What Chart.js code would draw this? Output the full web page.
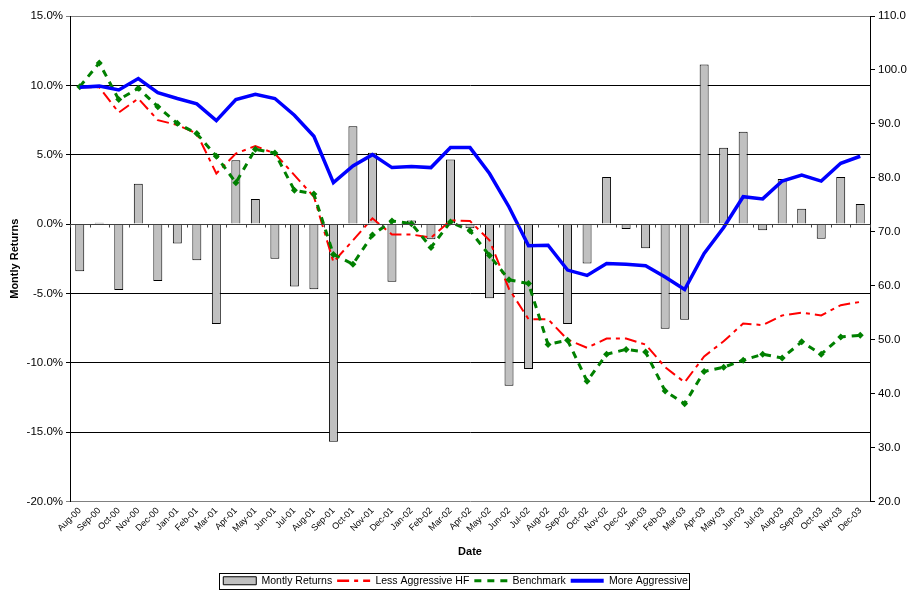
<!DOCTYPE html>
<html><head><meta charset="utf-8">
<script src="https://cdn.jsdelivr.net/npm/chart.js@4/dist/chart.umd.min.js"></script>
<style>html,body{margin:0;padding:0;background:#fff}#wrap{width:911px;height:590px}</style>
</head><body><div id="wrap"><canvas id="c" width="911" height="590"></canvas></div>
<script>
const categories = ["Aug-00","Sep-00","Oct-00","Nov-00","Dec-00","Jan-01","Feb-01","Mar-01","Apr-01","May-01","Jun-01","Jul-01","Aug-01","Sep-01","Oct-01","Nov-01","Dec-01","Jan-02","Feb-02","Mar-02","Apr-02","May-02","Jun-02","Jul-02","Aug-02","Sep-02","Oct-02","Nov-02","Dec-02","Jan-03","Feb-03","Mar-03","Apr-03","May-03","Jun-03","Jul-03","Aug-03","Sep-03","Oct-03","Nov-03","Dec-03"];
const monthlyReturns = [-3.4,0.1,-4.75,2.9,-4.1,-1.4,-2.6,-7.2,4.6,1.8,-2.5,-4.5,-4.7,-15.7,7.05,5.15,-4.15,0.25,-1.1,4.65,-0.3,-5.35,-11.65,-10.45,0.05,-7.2,-2.85,3.4,-0.35,-1.75,-7.55,-6.9,11.5,5.5,6.65,-0.45,3.25,1.1,-1.05,3.4,1.45];
const lessAggressive = [96.8,96.8,92.1,94.7,90.7,89.8,88.2,80.8,84.5,85.9,84.5,80.5,76.5,64.4,68.4,72.5,69.5,69.5,68.9,72.1,72.0,68.4,59.4,53.8,53.8,50.0,48.5,50.2,50.2,49.1,44.9,42.1,46.9,49.7,53.0,52.7,54.5,55.0,54.5,56.4,57.0];
const benchmark = [96.9,101.3,94.5,96.6,93.2,90.1,88.2,84.0,79.1,85.3,84.6,77.7,77.0,65.8,64.0,69.4,72.0,71.5,67.1,71.8,70.2,65.6,61.1,60.4,49.1,49.9,42.3,47.3,48.2,47.7,40.5,38.1,44.1,44.9,46.2,47.3,46.6,49.6,47.3,50.5,50.8];
const moreAggressive = [96.8,97.0,96.3,98.4,95.8,94.7,93.7,90.6,94.5,95.5,94.7,91.6,87.7,79.1,82.2,84.3,81.9,82.1,81.9,85.6,85.6,80.8,74.6,67.4,67.5,62.9,61.9,64.1,64.0,63.7,61.6,59.3,66.0,70.8,76.5,76.1,79.4,80.5,79.4,82.7,84.0];

const FONT = "'Liberation Sans', Arial, sans-serif";
Chart.defaults.font.family = FONT;
Chart.defaults.color = '#000';

const zeroLine = {
  id: 'zeroLine',
  afterDatasetsDraw(chart) {
    const ctx = chart.ctx, y = chart.scales.y, x = chart.scales.x, a = chart.chartArea;
    const py = Math.round(y.getPixelForValue(0)) + 0.5;
    ctx.save();
    ctx.strokeStyle = '#404040';
    ctx.lineWidth = 1;
    ctx.beginPath();
    ctx.moveTo(a.left, py); ctx.lineTo(a.right, py);
    for (let i = 0; i <= categories.length; i++) {
      const px = Math.round(x.getPixelForValue(i - 0.5)) + 0.5;
      ctx.moveTo(px, py); ctx.lineTo(px, py + 3);
    }
    ctx.stroke();
    ctx.restore();
  }
};
const legendBox = {
  id: 'legendBox',
  afterDraw(chart) {
    const hb = chart.legend && chart.legend.legendHitBoxes;
    if (!hb || !hb.length) return;
    let l = Infinity, r = -Infinity, t = Infinity, b = -Infinity;
    hb.forEach(h => { l = Math.min(l, h.left); r = Math.max(r, h.left + h.width); t = Math.min(t, h.top); b = Math.max(b, h.top + h.height); });
    const ctx = chart.ctx;
    ctx.save();
    ctx.strokeStyle = '#000'; ctx.lineWidth = 1;
    ctx.strokeRect(Math.round(l - 4) + 0.5, Math.round(t - 3) + 0.5, Math.round(r - l + 6), Math.round(b - t + 5));
    ctx.restore();
  }
};

new Chart(document.getElementById('c'), {
  data: {
    labels: categories,
    datasets: [
      { type: 'bar', label: 'Montly Returns', data: monthlyReturns, yAxisID: 'y',
        backgroundColor: '#c0c0c0', borderColor: '#000', borderWidth: 1,
        categoryPercentage: 1, barPercentage: 0.46, order: 5 },
      { type: 'line', label: 'Less Aggressive HF', data: lessAggressive, yAxisID: 'y1',
        borderColor: '#ff0000', backgroundColor: '#ff0000', borderWidth: 2, borderDash: [12,5,4,5],
        pointRadius: 0, tension: 0, order: 3 },
      { type: 'line', label: 'Benchmark', data: benchmark, yAxisID: 'y1',
        borderColor: '#008000', backgroundColor: '#008000', borderWidth: 3, borderDash: [7,6],
        pointStyle: 'rectRot', pointRadius: 3.5, pointBorderWidth: 0, tension: 0, order: 2 },
      { type: 'line', label: 'More Aggressive', data: moreAggressive, yAxisID: 'y1',
        borderColor: '#0000ff', backgroundColor: '#0000ff', borderWidth: 3.5,
        pointRadius: 0, tension: 0, order: 1 }
    ]
  },
  options: {
    responsive: false, animation: false,
    layout: { padding: { top: 16, left: 0, right: 0, bottom: -6 } },
    plugins: {
      tooltip: { enabled: false },
      legend: {
        position: 'bottom',
        labels: {
          font: { size: 10.5, family: FONT }, color: '#000', padding: 5,
          usePointStyle: true, pointStyleWidth: 33, boxHeight: 8,
          generateLabels(chart) {
            return chart.data.datasets.map((d, i) => ({
              text: d.label, datasetIndex: i,
              fillStyle: d.backgroundColor, strokeStyle: i === 0 ? '#000' : d.borderColor,
              lineWidth: i === 0 ? 1 : (i === 3 ? 4 : (i === 2 ? 3 : 2.5)),
              lineDash: d.borderDash || [],
              pointStyle: i === 0 ? 'rect' : 'line',
              hidden: false
            }));
          }
        }
      }
    },
    scales: {
      x: {
        type: 'category', offset: true,
        grid: { display: false, drawTicks: false },
        border: { display: false },
        ticks: { autoSkip: false, minRotation: 45, maxRotation: 45, font: { size: 9, family: FONT }, color: '#000', padding: 4 },
        title: { display: true, text: 'Date', font: { size: 11, weight: 'bold', family: FONT }, color: '#000', padding: { top: 2, bottom: 12 } },
        afterFit(s) { s.height = 69; }
      },
      y: {
        type: 'linear', position: 'left', min: -20, max: 15,
        ticks: { stepSize: 5, font: { size: 11.5, family: FONT }, color: '#000', padding: 3,
          callback: v => v.toFixed(1) + '%' },
        grid: { color: ctx => (ctx.tick && (ctx.tick.value === 15 || ctx.tick.value === -20)) ? '#808080' : '#000', lineWidth: 1, tickLength: 4, drawTicks: true },
        border: { display: true, color: '#000', width: 1 },
        title: { display: true, text: 'Montly Returns', font: { size: 11, weight: 'bold', family: FONT }, color: '#000', padding: { top: 8, bottom: 2 } },
        afterFit(s) { s.width = 70; }
      },
      y1: {
        type: 'linear', position: 'right', min: 20, max: 110,
        ticks: { stepSize: 10, font: { size: 11.5, family: FONT }, color: '#000', padding: 3,
          callback: v => v.toFixed(1) },
        grid: { drawOnChartArea: false, drawTicks: true, tickLength: 5, color: '#000' },
        border: { display: true, color: '#000', width: 1 },
        afterFit(s) { s.width = 41; }
      }
    }
  },
  plugins: [zeroLine, legendBox]
});
</script>
</body></html>
